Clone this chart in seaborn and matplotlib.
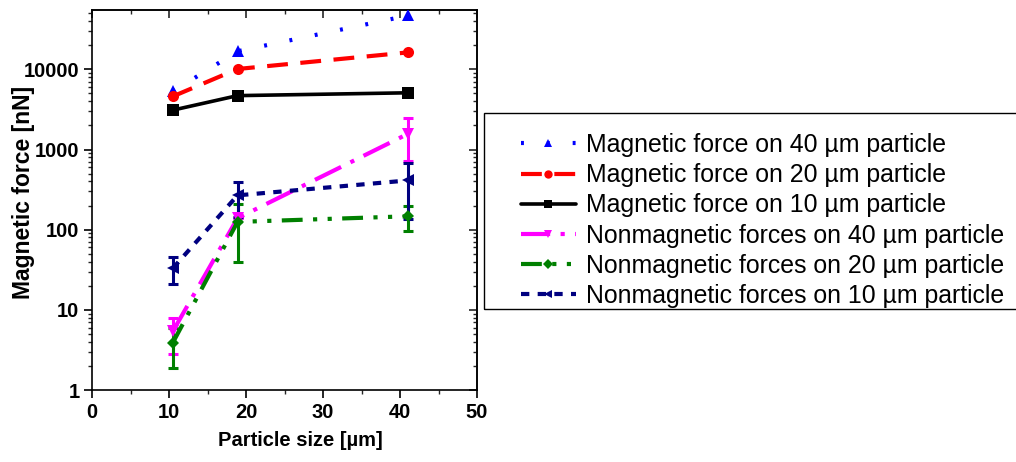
import numpy as np
import pandas as pd
import seaborn as sns
import matplotlib
matplotlib.use("Agg")
import matplotlib.pyplot as plt
from matplotlib.patches import Rectangle
from matplotlib.ticker import FixedLocator, FuncFormatter, LogLocator, MultipleLocator, NullFormatter

# Particle sizes (µm) at which forces were evaluated
sizes = [10.5, 18.9, 41.1]

# Magnetic forces [nN]
mag_40 = [5300, 16800, 47000]
mag_20 = [4600, 10100, 16300]
mag_10 = [3100, 4700, 5100]

# Nonmagnetic forces [nN] with error
nonmag_40 = [5.4, 139, 1580]
nonmag_40_err = [2.6, 0, 860]
nonmag_20 = [3.9, 125, 147]
nonmag_20_err = [2.0, 86, 50]
nonmag_10 = [33, 268, 412]
nonmag_10_err = [12, 125, 275]

labels = [
    "Magnetic force on 40 µm particle",
    "Magnetic force on 20 µm particle",
    "Magnetic force on 10 µm particle",
    "Nonmagnetic forces on 40 µm particle",
    "Nonmagnetic forces on 20 µm particle",
    "Nonmagnetic forces on 10 µm particle",
]

sns.set_theme(style="ticks")
plt.rcParams["font.family"] = ["Liberation Sans", "DejaVu Sans"]
plt.rcParams["text.color"] = "black"
plt.rcParams["axes.labelcolor"] = "black"

W, H = 1016, 462
fig = plt.figure(figsize=(W / 100, H / 100), dpi=100)
ax = fig.add_axes([92 / W, 1 - 390 / H, (477 - 92) / W, (390 - 10) / H])

series = [
    (mag_40, None, "#0000ff", "^", (0, (0.7, 5.5)), 3.0),
    (mag_20, None, "#ff0000", "o", (0, (5, 3)), 3.0),
    (mag_10, None, "#000000", "s", "-", 2.6),
    (nonmag_40, nonmag_40_err, "#ff00ff", "v", (0, (7, 2.5, 1, 2.5)), 3.0),
    (nonmag_20, nonmag_20_err, "#008000", "D", (0, (5, 2.5, 1, 2.5, 1, 2.5)), 3.0),
    (nonmag_10, nonmag_10_err, "#000080", "<", (0, (2, 2)), 3.0),
]

for (vals, err, color, marker, ls, lw), lab in zip(series, labels):
    df = pd.DataFrame({"size": sizes, "force": vals})
    msize = 6.5 if marker == "D" else 8
    sns.lineplot(data=df, x="size", y="force", ax=ax, color=color, marker=marker,
                 markersize=msize, markeredgewidth=0, linewidth=lw, linestyle=ls,
                 label=lab, zorder=3)
    if err is not None:
        ax.errorbar(sizes, vals, yerr=err, fmt="none", ecolor=color, elinewidth=2.2,
                    capsize=3.5, capthick=2.2, zorder=2)

ax.set_yscale("log")
ax.set_xlim(0, 50)
ax.set_ylim(1, 55000)

ax.xaxis.set_major_locator(MultipleLocator(10))
ax.xaxis.set_minor_locator(MultipleLocator(5))
ax.yaxis.set_major_locator(FixedLocator([1, 10, 100, 1000, 10000]))
ax.yaxis.set_major_formatter(FuncFormatter(lambda v, p: f"{int(round(v))}"))
ax.yaxis.set_minor_locator(LogLocator(base=10, subs=np.arange(2, 10)))
ax.yaxis.set_minor_formatter(NullFormatter())

for sp in ax.spines.values():
    sp.set_linewidth(1.2)
    sp.set_color("black")
    sp.set_visible(True)

ax.tick_params(axis="both", which="major", direction="out", length=6, width=1.2,
               labelsize=14.5, colors="black", pad=3)
ax.tick_params(axis="both", which="minor", direction="out", length=3, width=1.0)
for t in ax.get_xticklabels() + ax.get_yticklabels():
    t.set_fontweight("bold")

# mirrored inward ticks on the top and right frame
top = ax.secondary_xaxis("top")
top.xaxis.set_major_locator(MultipleLocator(10))
top.xaxis.set_minor_locator(MultipleLocator(5))
top.tick_params(which="major", direction="in", length=6, width=1.2, labeltop=False)
top.tick_params(which="minor", direction="in", length=3, width=1.0)
right = ax.secondary_yaxis("right")
right.yaxis.set_major_locator(FixedLocator([1, 10, 100, 1000, 10000]))
right.yaxis.set_minor_locator(LogLocator(base=10, subs=np.arange(2, 10)))
right.yaxis.set_minor_formatter(NullFormatter())
right.tick_params(which="major", direction="in", length=6, width=1.2, labelright=False)
right.tick_params(which="minor", direction="in", length=3, width=1.0)

ax.set_xlabel("Particle size [µm]", fontsize=14.5, fontweight="bold")
ax.xaxis.set_label_coords(0.54, -0.107)
ax.set_ylabel("Magnetic force [nN]", fontsize=16.5, fontweight="bold")
ax.yaxis.set_label_coords(-0.148, 0.52)

# legend to the right of the axes, inside a plain rectangular frame
ax.get_legend().remove()
h, l = ax.get_legend_handles_labels()
fig.legend(h, l, loc="upper left", bbox_to_anchor=(521 / W, 1 - 133 / H),
           borderaxespad=0, borderpad=0, fontsize=17.9, frameon=False,
           handlelength=2.2, handletextpad=0.4, labelspacing=0.25, markerscale=0.75)
fig.patches.append(Rectangle((484 / W, 1 - 309 / H), (1030 - 484) / W, (309 - 113) / H,
                             transform=fig.transFigure, fill=False, edgecolor="black",
                             linewidth=1.0, clip_on=False))

fig.savefig("out.png", dpi=100)
